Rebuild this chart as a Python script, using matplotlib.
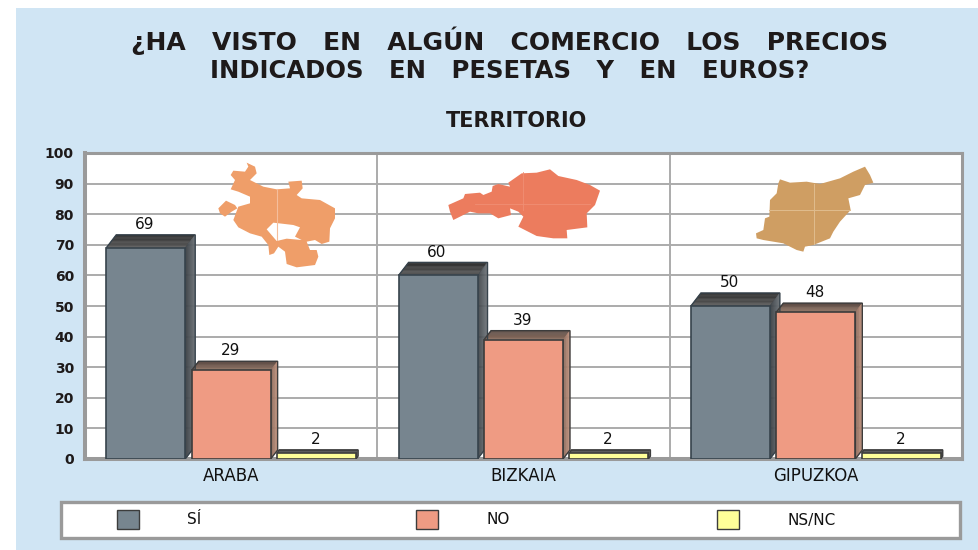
"""Comercios con precios en pesetas y euros, por territorio (barras 3D falsas)."""

import numpy as np
import matplotlib
matplotlib.use("Agg")
import matplotlib.pyplot as plt
from matplotlib.colors import to_rgb
from matplotlib.patches import Rectangle, Polygon, PathPatch
from matplotlib.path import Path

# Data
territorios = ["ARABA", "BIZKAIA", "GIPUZKOA"]
series = ["SÍ", "NO", "NS/NC"]
si_vals = [69, 60, 50]
no_vals = [29, 39, 48]
nsnc_vals = [2, 2, 2]
y_ticks = list(range(0, 101, 10))

title_1 = "¿HA   VISTO   EN   ALGÚN   COMERCIO   LOS   PRECIOS"
title_2 = "INDICADOS   EN   PESETAS   Y   EN   EUROS?"
subtitle = "TERRITORIO"

# Colours
PANEL = "#D0E5F4"
GRID = "#ABABAB"
FRAME = "#9A9A9A"
front_cols = ["#77858F", "#EF9B83", "#FFFF99"]
edge_cols = ["#37434C", "#3C3C3C", "#3C3C3C"]
top_back = ["#2A2A2A", "#54443E", "#444444"]
top_front = ["#5A5A5A", "#8E7060", "#777777"]
side_dark = ["#3A3F44", "#8A6A5C", "#444444"]
side_light = ["#6E7479", "#C49580", "#777777"]
depth_px = [(10, 13), (7, 9), (2, 3)]  # by series

araba_xy = [(740, 68), (765, 80), (770, 100), (750, 120), (790, 140), (830, 148), (870, 145),
            (865, 125), (905, 122), (908, 145), (890, 165), (905, 175), (960, 180), (1005, 205),
            (1005, 235), (990, 265), (988, 305), (965, 312), (945, 300), (920, 305), (930, 330),
            (950, 330), (955, 350), (945, 375), (890, 382), (860, 372), (855, 335), (835, 320),
            (822, 340), (808, 345), (805, 315), (785, 290), (750, 280), (715, 262), (700, 240),
            (715, 200), (750, 190), (750, 170), (715, 155), (692, 148), (705, 120), (692, 105),
            (700, 92), (735, 95), (745, 80)]
araba_hole = [(800, 268), (830, 303), (860, 296), (905, 300), (885, 290), (900, 262), (880, 255), (820, 248)]
araba_isle = [(655, 205), (678, 182), (705, 195), (712, 205), (695, 215), (675, 230), (660, 220)]
bizkaia_xy = [(55, 165), (100, 145), (105, 132), (150, 128), (160, 135), (185, 125), (188, 108),
              (205, 102), (240, 110), (235, 98), (275, 70), (320, 68), (360, 58), (385, 78),
              (440, 90), (480, 105), (510, 122), (495, 165), (470, 190), (472, 232), (410, 240),
              (412, 265), (370, 265), (320, 258), (265, 230), (280, 200), (265, 185), (240, 175),
              (243, 195), (205, 205), (180, 190), (145, 190), (120, 185), (70, 210), (60, 185)]
gipuzkoa_xy = [(1050, 88), (1080, 98), (1130, 95), (1170, 102), (1230, 85), (1270, 65), (1305, 50),
               (1320, 75), (1330, 98), (1305, 105), (1290, 135), (1255, 145), (1262, 180),
               (1230, 215), (1210, 245), (1200, 265), (1150, 285), (1125, 290), (1120, 305),
               (1100, 300), (1060, 280), (1000, 270), (980, 265), (978, 250), (1000, 240),
               (1005, 205), (1018, 200), (1020, 150), (1040, 130), (1045, 100)]


def from_crop(pts, x0, y0):
    return [(x0 + x / 3, y0 + y / 3) for x, y in pts]


def mix(c1, c2, t):
    a, b = np.array(to_rgb(c1)), np.array(to_rgb(c2))
    return tuple(a + (b - a) * t)


plt.rcParams["font.family"] = "DejaVu Sans"
W, H = 979, 550
fig = plt.figure(figsize=(W / 100, H / 100), dpi=100, facecolor="white")

# Background layer: panel + legend box, in pixels
bg = fig.add_axes([0, 0, 1, 1], zorder=0)
bg.set_xlim(0, W)
bg.set_ylim(H, 0)
bg.axis("off")
bg.add_patch(Rectangle((16, 8), W - 16, H - 8, fc=PANEL, ec="none"))
bg.add_patch(Rectangle((61, 501.5), 899, 36, fc="white", ec=FRAME, lw=2.4))

bg.text(510, 41, title_1, ha="center", va="center", fontsize=18, fontweight="bold", color="#1E1A1A")
bg.text(510, 71, title_2, ha="center", va="center", fontsize=17.5, fontweight="bold", color="#1E1A1A")
bg.text(517, 121, subtitle, ha="center", va="center", fontsize=15, fontweight="bold", color="#1E1A1A")

swatch_x = [117, 416, 717]
label_x = [194, 498, 812]
for i, name in enumerate(series):
    bg.add_patch(Rectangle((swatch_x[i], 510), 22, 19, fc=front_cols[i], ec="#3C3C3C", lw=1))
    bg.text(label_x[i], 520, name, ha="center", va="center", fontsize=11, color="#111111")

# Plot
PLOT_L, PLOT_R, PLOT_B, PLOT_T = 85, 962, 459, 153
ax = fig.add_axes([PLOT_L / W, (H - PLOT_B) / H, (PLOT_R - PLOT_L) / W, (PLOT_B - PLOT_T) / H], zorder=1)
ax.set_xlim(-0.5, 2.5)
ax.set_ylim(0, 100)
ax.set_facecolor("white")
ax.set_yticks(y_ticks)
ax.set_yticklabels([str(t) for t in y_ticks], fontsize=10, fontweight="bold", color="#1E1A1A")
ax.set_xticks(range(3))
ax.set_xticklabels(territorios, fontsize=12, color="#111111")
ax.tick_params(axis="both", length=0)
ax.tick_params(axis="y", pad=8)
ax.tick_params(axis="x", pad=6)
ax.grid(axis="y", color=GRID, lw=1.4)
ax.set_axisbelow(True)
for v in [0.5, 1.5]:
    ax.axvline(v, color=GRID, lw=1.4, zorder=1)
for name, side in ax.spines.items():
    side.set_color(FRAME)
    side.set_linewidth(2.9 if name in ("left", "bottom") else 2.2)

px_x = 3 / (PLOT_R - PLOT_L)
px_y = 100 / (PLOT_B - PLOT_T)
BAR_W = 0.27
BAR_STEP = 0.2923
STRIPS = 10

for s, vals in enumerate([si_vals, no_vals, nsnc_vals]):
    dx = depth_px[s][0] * px_x
    dy = depth_px[s][1] * px_y
    for g, val in enumerate(vals):
        x0 = g + (s - 1) * BAR_STEP - BAR_W / 2
        x1 = x0 + BAR_W
        # top face, dark at the back
        for k in range(STRIPS):
            t0, t1 = k / STRIPS, (k + 1) / STRIPS
            col = mix(top_front[s], top_back[s], t0)
            ax.add_patch(Polygon([(x0 + dx * t0, val + dy * t0), (x1 + dx * t0, val + dy * t0),
                                  (x1 + dx * t1, val + dy * t1), (x0 + dx * t1, val + dy * t1)],
                                 fc=col, ec=col, lw=0.3, zorder=3))
        # side face
        for k in range(STRIPS):
            t0, t1 = k / STRIPS, (k + 1) / STRIPS
            col = mix(side_dark[s], side_light[s], t0)
            ax.add_patch(Polygon([(x1 + dx * t0, dy * t0), (x1 + dx * t1, dy * t1),
                                  (x1 + dx * t1, val + dy * t1), (x1 + dx * t0, val + dy * t0)],
                                 fc=col, ec=col, lw=0.3, zorder=3))
        outline = [(x0, val), (x0 + dx, val + dy), (x1 + dx, val + dy), (x1 + dx, dy), (x1, 0), (x1, val)]
        ax.add_patch(Polygon(outline, closed=False, fc="none", ec=edge_cols[s], lw=1, zorder=4))
        ax.bar(x0 + BAR_W / 2, val, BAR_W, color=front_cols[s], edgecolor=edge_cols[s], lw=1.2, zorder=4)
        ax.annotate(str(val), (x0 + BAR_W / 2 - 1 * px_x, val + dy), xytext=(0, 2),
                    textcoords="offset points", ha="center", va="bottom",
                    fontsize=11, color="#111111", zorder=5)

# Map layer
top = fig.add_axes([0, 0, 1, 1], zorder=2)
top.set_xlim(0, W)
top.set_ylim(H, 0)
top.axis("off")
top.patch.set_alpha(0)


def rings_path(rings):
    verts, codes = [], []
    for r in rings:
        verts += r + [r[0]]
        codes += [Path.MOVETO] + [Path.LINETO] * (len(r) - 1) + [Path.CLOSEPOLY]
    return Path(verts, codes)


a_main = from_crop(araba_xy, 0, 140)
a_hole = from_crop(araba_hole, 0, 140)
a_isle = from_crop(araba_isle, 0, 140)
top.add_patch(PathPatch(rings_path([a_main, a_hole, a_isle]), fc="#EF9E69", ec="none"))
top.plot([277.5, 277.5], [189, 240], color="#F5BE9C", lw=0.8)

top.add_patch(Polygon(from_crop(bizkaia_xy, 430, 150), fc="#EC7C5E", ec="none"))
top.plot([523, 523], [172, 210], color="#F08F74", lw=0.6)
top.plot([475, 590], [204, 204], color="#F08F74", lw=0.6)

top.add_patch(Polygon(from_crop(gipuzkoa_xy, 430, 150), fc="#CF9E63", ec="none"))
top.plot([814.5, 814.5], [184, 244], color="#E0BC8E", lw=0.7)
top.plot([769, 850], [209.5, 209.5], color="#E0BC8E", lw=0.7)

fig.savefig("out.png", dpi=100, facecolor="white")
